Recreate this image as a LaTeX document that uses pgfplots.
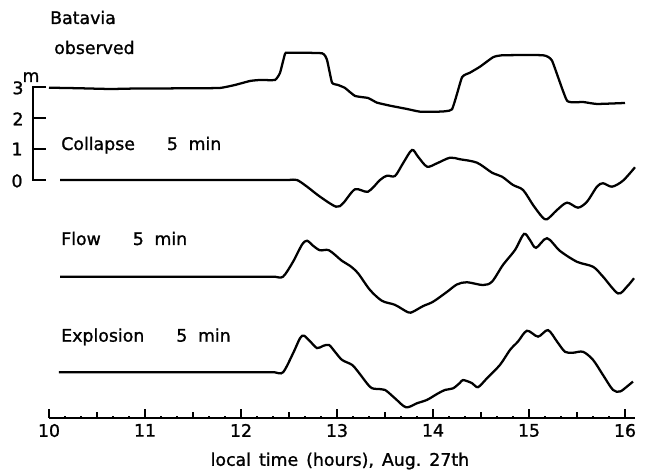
\documentclass[border=0pt]{standalone}
\usepackage{fontspec}
\setmainfont{DejaVu Sans}[FakeBold=1.2]
\usepackage{pgfplots}
\usepackage{pgfplotstable}
\pgfplotsset{compat=1.18}

\pgfplotstableread{
h m
10.000 2.977
10.300 2.960
10.635 2.935
10.900 2.950
11.156 2.952
11.500 2.960
11.781 2.968
11.938 3.065
12.094 3.194
12.198 3.226
12.354 3.226
12.406 3.452
12.458 4.065
12.490 4.106
12.844 4.087
12.896 3.871
12.948 3.139
13.010 3.065
13.083 2.968
13.188 2.710
13.323 2.645
13.417 2.494
13.552 2.397
13.729 2.290
13.865 2.203
14.052 2.203
14.198 2.281
14.302 3.313
14.385 3.461
14.490 3.655
14.625 3.958
14.719 4.023
15.146 4.023
15.240 3.848
15.396 2.558
15.563 2.516
15.708 2.452
16.000 2.484
}\observed

\pgfplotstableread{
h m
10.115 0
11.000 0
12.000 0
12.400 0
12.500 0
12.583 0
12.688 -0.216
12.823 -0.539
12.990 -0.861
13.063 -0.752
13.188 -0.300
13.323 -0.377
13.448 0.000
13.521 0.139
13.604 0.129
13.688 0.539
13.781 0.968
13.844 0.752
13.938 0.430
14.042 0.539
14.177 0.719
14.281 0.668
14.458 0.558
14.615 0.235
14.719 0.106
14.833 -0.161
14.938 -0.323
15.042 -0.806
15.135 -1.184
15.188 -1.268
15.292 -0.968
15.396 -0.732
15.510 -0.893
15.604 -0.700
15.708 -0.216
15.771 -0.106
15.865 -0.216
15.979 -0.022
16.104 0.410
}\collapse

\pgfplotstableread{
h m
10.115 0
11.000 0
12.000 0
12.250 0
12.350 0
12.438 0
12.542 0.48
12.635 1.03
12.688 1.16
12.750 1.00
12.823 0.85
12.917 0.85
13.052 0.51
13.135 0.35
13.219 0.11
13.344 -0.43
13.469 -0.78
13.604 -0.91
13.740 -1.15
13.792 -1.13
13.896 -0.95
14.000 -0.81
14.146 -0.49
14.250 -0.25
14.354 -0.18
14.521 -0.27
14.615 -0.16
14.729 0.38
14.854 0.86
14.948 1.38
15.010 1.18
15.073 0.93
15.188 1.24
15.323 0.83
15.500 0.48
15.667 0.32
15.771 0.00
15.927 -0.54
16.021 -0.32
16.094 -0.05
}\flow

\pgfplotstableread{
h m
10.104 0
11.000 0
12.000 0
12.250 0
12.350 0
12.438 0
12.542 0.61
12.615 1.10
12.656 1.18
12.719 1.00
12.792 0.78
12.854 0.85
12.917 0.88
12.979 0.66
13.052 0.40
13.156 0.24
13.219 0.02
13.344 -0.47
13.417 -0.54
13.500 -0.57
13.604 -0.84
13.719 -1.13
13.833 -1.00
13.938 -0.89
14.042 -0.70
14.125 -0.57
14.208 -0.52
14.281 -0.34
14.313 -0.25
14.406 -0.35
14.469 -0.48
14.563 -0.19
14.698 0.24
14.802 0.72
14.885 0.99
14.979 1.34
15.094 1.15
15.198 1.36
15.292 0.99
15.375 0.66
15.458 0.63
15.563 0.66
15.667 0.40
15.771 -0.09
15.875 -0.57
15.948 -0.62
16.021 -0.46
16.083 -0.30
}\explosion

\newcommand{\lbl}{\fontsize{13}{15}\selectfont}

\begin{document}
\begin{tikzpicture}
\begin{axis}[
  x=72pt, y=23.25pt,
  xmin=10, xmax=16.104, ymin=-7.677, ymax=5.5,
  axis x line=bottom, axis y line=none,
  axis line style={line width=1.3pt, -},
  xtick={10,11,12,13,14,15,16},
  tick align=inside,
  major tick length=6.75pt,
  minor x tick num=5,
  minor tick length=1.5pt,
  extra x ticks={10.5,11.5,12.5,13.5,14.5,15.5},
  extra x tick labels={},
  extra x tick style={major tick length=4.5pt},
  tick style={line width=1.1pt, black},
  xticklabel style={font=\lbl, yshift=-1pt},
  /pgf/number format/assume math mode=true,
  clip=false,
  every axis plot/.append style={line width=1.7pt, black},
]
\addplot[smooth, tension=0.25] table[x=h, y=m] {\observed};
\addplot[smooth, tension=0.5] table[x=h, y=m] {\collapse};
\addplot[smooth, tension=0.5] table[x=h, y expr=\thisrow{m}-3.119] {\flow};
\addplot[smooth, tension=0.5] table[x=h, y expr=\thisrow{m}-6.203] {\explosion};

% y scale bar
\draw[line width=1.3pt] (axis cs:9.969,3) -- (axis cs:9.833,3) -- (axis cs:9.833,0) -- (axis cs:9.969,0);
\draw[line width=1.3pt] (axis cs:9.833,2) -- (axis cs:9.969,2);
\draw[line width=1.3pt] (axis cs:9.833,1) -- (axis cs:9.969,1);
\node[font=\lbl] at (axis cs:9.677,2.97) {3};
\node[font=\lbl] at (axis cs:9.677,1.97) {2};
\node[font=\lbl] at (axis cs:9.667,1.0) {1};
\node[font=\lbl] at (axis cs:9.667,-0.03) {0};
\node[font=\lbl] at (axis cs:9.8125,3.32) {m};

\node[font=\lbl, anchor=base west, inner sep=0pt] at (axis cs:10.010,5.032) {Batavia};
\node[font=\lbl, anchor=base west, inner sep=0pt] at (axis cs:10.052,4.065) {observed};
\node[font=\lbl, anchor=base west, inner sep=0pt] at (axis cs:10.125,0.968) {Collapse\hspace{24pt}5\hspace{8pt}min};
\node[font=\lbl, anchor=base west, inner sep=0pt] at (axis cs:10.125,-2.097) {Flow\hspace{24pt}5\hspace{8pt}min};
\node[font=\lbl, anchor=base west, inner sep=0pt] at (axis cs:10.125,-5.216) {Explosion\hspace{24pt}5\hspace{8pt}min};
\node[font=\lbl] at (axis cs:13.03,-9.065) {local\hspace{6pt}time\hspace{6pt}(hours),\hspace{6pt}Aug.\hspace{6pt}27th};

\coordinate (bbl) at (axis cs:9.4896,-9.387);
\coordinate (btr) at (axis cs:16.21875,5.806);
\end{axis}
\pgfresetboundingbox
\path[use as bounding box] (bbl) rectangle (btr);
\end{tikzpicture}
\end{document}
